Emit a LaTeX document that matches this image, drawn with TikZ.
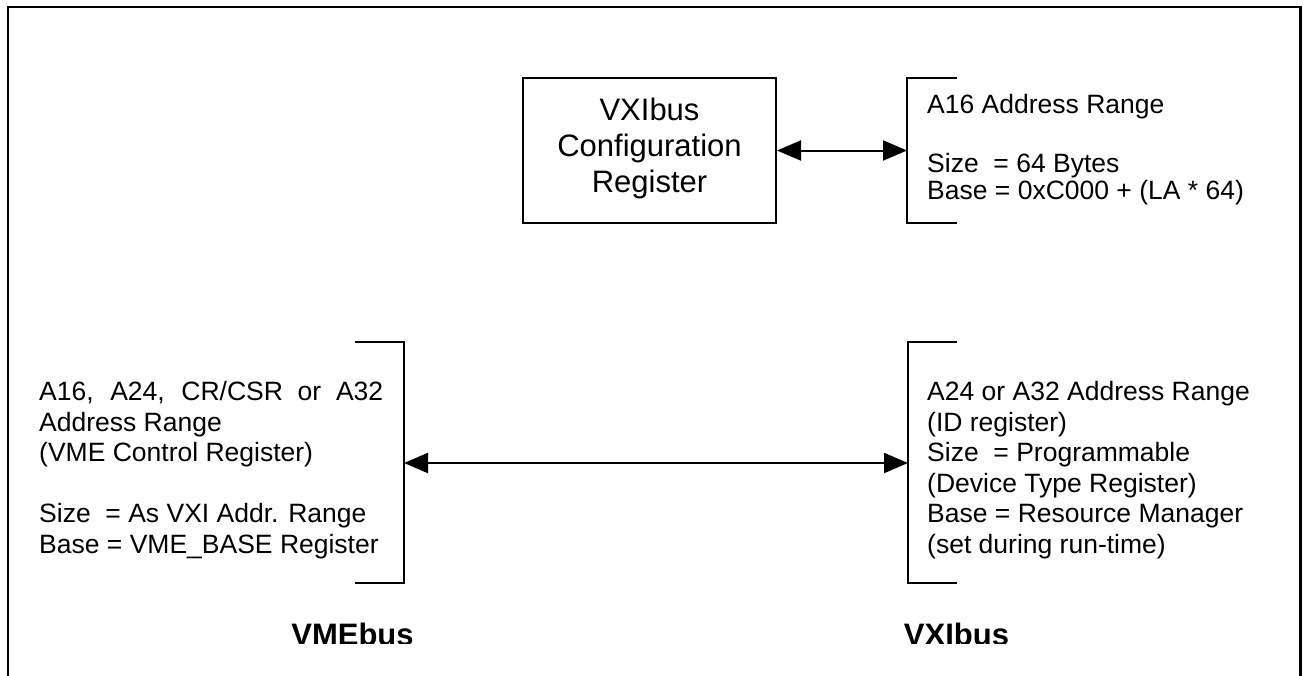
\documentclass[tikz,border=0pt]{standalone}
\usepackage{fontspec}
\setmainfont{Liberation Sans}
\usetikzlibrary{arrows.meta}
\tikzset{
  frameline/.style={line width=2.2pt, black},
  bracketline/.style={line width=2pt, black, line cap=butt},
  biarrow/.style={line width=2pt, {Triangle[length=24pt,width=20pt]}-{Triangle[length=24pt,width=20pt]}},
  smalltxt/.style={anchor=base west, inner sep=0pt, font=\fontsize{26.5}{30}\selectfont},
  boxtxt/.style={anchor=base, inner sep=0pt, font=\fontsize{31}{36}\selectfont},
  bustxt/.style={anchor=base, inner sep=0pt, font=\fontsize{31}{36}\selectfont\bfseries},
  regbox/.style={draw, line width=2pt, minimum width=253pt, minimum height=145pt, inner sep=0pt}
}
\begin{document}
\begin{tikzpicture}[x=1pt,y=-1pt]
\useasboundingbox (0,0) rectangle (1304,675);
% outer frame (open at bottom)
\draw[frameline] (8,676) -- (8,7) -- (1300.5,7) -- (1300.5,676);

% configuration register box
\node[regbox] (cfg) at (649.5,150.5) {};
\node[boxtxt] (cfg1) at (649.5,120) {VXIbus};
\node[boxtxt] (cfg2) at (649.5,156.5) {Configuration};
\node[boxtxt] (cfg3) at (649.5,192) {Register};

% top right bracket
\coordinate (tra) at (957,78);
\coordinate (trb) at (907,78);
\coordinate (trc) at (907,223);
\coordinate (trd) at (957,223);
\coordinate (trm) at (907,150.5);
\draw[bracketline] (tra) -- (trb) -- (trc) -- (trd);
\node[smalltxt] (t1) at (927,113.5) {A16 Address Range};
\node[smalltxt] (t2) at (927,172.5) {Size\ \ = 64 Bytes};
\node[smalltxt] (t3) at (927,199) {Base = 0xC000 + (LA * 64)};
\draw[biarrow] (cfg.east) -- (trm);

% left bracket (VMEbus)
\coordinate (la) at (355,342);
\coordinate (lb) at (404,342);
\coordinate (lc) at (404,583);
\coordinate (ld) at (355,583);
\coordinate (lm) at (404,463);
\draw[bracketline] (la) -- (lb) -- (lc) -- (ld);
\node[smalltxt] (l1) at (39,400.5) {\makebox[344pt][s]{A16, A24, CR/CSR or A32}};
\node[smalltxt] (l2) at (39,431) {Address Range};
\node[smalltxt] (l3) at (39,461.5) {(VME Control Register)};
\node[smalltxt] (l4) at (39,522.5) {Size\ \ = As VXI Addr. Range};
\node[smalltxt] (l5) at (39,553) {Base = VME\_BASE Register};

% right bracket (VXIbus)
\coordinate (ra) at (957,342);
\coordinate (rb) at (908,342);
\coordinate (rc) at (908,583);
\coordinate (rd) at (957,583);
\coordinate (rm) at (908,463);
\draw[bracketline] (ra) -- (rb) -- (rc) -- (rd);
\node[smalltxt] (r1) at (927,400.5) {A24 or A32 Address Range};
\node[smalltxt] (r2) at (927,431) {(ID register)};
\node[smalltxt] (r3) at (927,461.5) {Size\ \ = Programmable};
\node[smalltxt] (r4) at (927,492) {(Device Type Register)};
\node[smalltxt] (r5) at (927,522.5) {Base = Resource Manager};
\node[smalltxt] (r6) at (927,553) {(set during run-time)};

\draw[biarrow] (lm) -- (rm);

% bus labels (clipped at bottom as in the original)
\begin{scope}
\clip (0,0) rectangle (1304,643.5);
\node[bustxt] (vme) at (352.5,645) {VMEbus};
\node[bustxt] (vxi) at (956.5,645) {VXIbus};
\end{scope}
\end{tikzpicture}
\end{document}
